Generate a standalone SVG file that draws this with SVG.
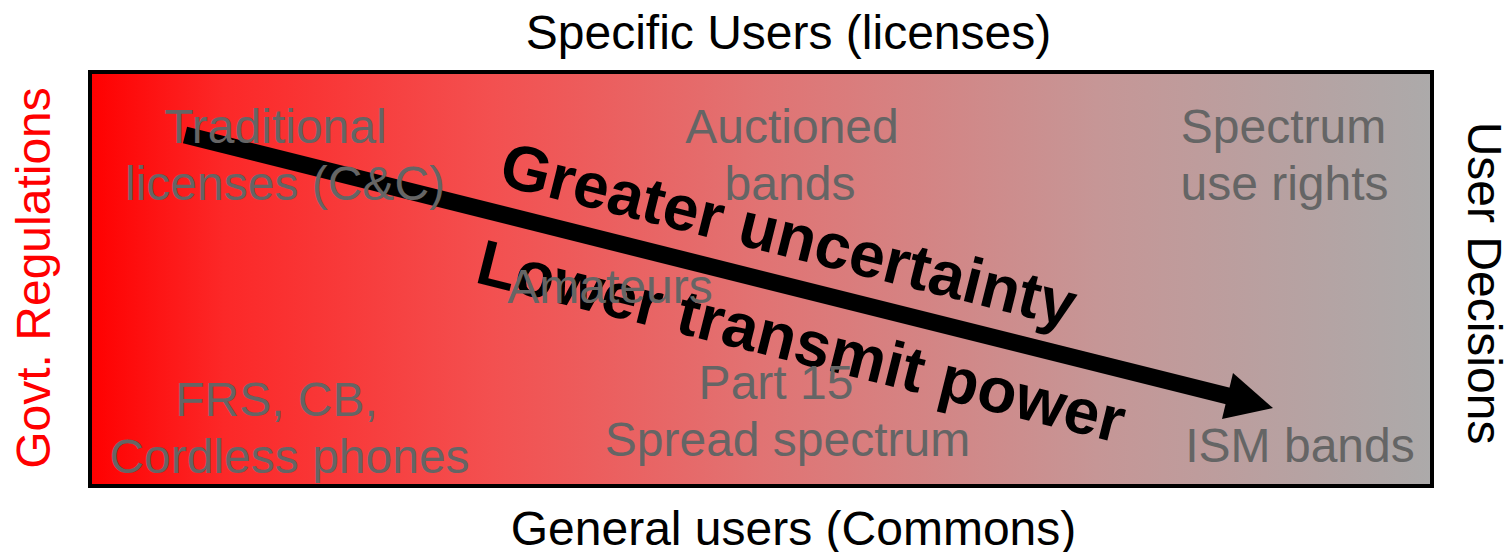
<svg xmlns="http://www.w3.org/2000/svg" width="1511" height="552" viewBox="0 0 1511 552">
  <defs>
    <linearGradient id="bg" x1="90" y1="0" x2="1432" y2="0" gradientUnits="userSpaceOnUse">
      <stop offset="0" stop-color="rgb(255,0,0)"/>
      <stop offset="0.1" stop-color="rgb(252,40,40)"/>
      <stop offset="0.3" stop-color="rgb(243,80,80)"/>
      <stop offset="0.5" stop-color="rgb(225,115,115)"/>
      <stop offset="0.75" stop-color="rgb(198,150,150)"/>
      <stop offset="1" stop-color="rgb(172,170,170)"/>
    </linearGradient>
    <style>
      text { font-family: "Liberation Sans", Arial, sans-serif; font-size: 48px; text-anchor: middle; }
      .cell { fill: #656565; }
      .axis { fill: #000000; }
      .bold { font-weight: bold; font-size: 64px; fill: #000000; }
    </style>
  </defs>
  <rect width="1511" height="552" fill="#ffffff"/>
  <g id="panel">
    <rect x="90" y="72" width="1342" height="414" fill="url(#bg)" stroke="#000000" stroke-width="4"/>
  </g>
  <g id="axis-top"><text class="axis" x="788.5" y="49">Specific Users (licenses)</text></g>
  <g id="axis-bottom"><text class="axis" x="793.5" y="545">General users (Commons)</text></g>
  <g id="axis-left"><text transform="translate(50,278) rotate(-90)" fill="#ff0000">Govt. Regulations</text></g>
  <g id="axis-right"><text class="axis" transform="translate(1468,283) rotate(90)">User Decisions</text></g>
  <g id="connectors">
    <line x1="185" y1="135" x2="1230" y2="396.6" stroke="#000000" stroke-width="17"/>
    <polygon points="1233,373 1273,408 1222,419" fill="#000000"/>
  </g>
  <g id="arrow-labels">
    <text class="bold" transform="translate(783.4,256.1) rotate(14.04)">Greater uncertainty</text>
    <text class="bold" transform="translate(796.1,362.6) rotate(14.04)">Lower transmit power</text>
  </g>
  <g id="traditional">
    <text class="cell" x="275.5" y="143">Traditional</text>
    <text class="cell" x="285" y="200">licenses (C&amp;C)</text>
  </g>
  <g id="auctioned">
    <text class="cell" x="792" y="143">Auctioned</text>
    <text class="cell" x="790" y="200">bands</text>
  </g>
  <g id="spectrum-rights">
    <text class="cell" x="1283.5" y="143">Spectrum</text>
    <text class="cell" x="1284.5" y="200">use rights</text>
  </g>
  <g id="amateurs"><text class="cell" x="610" y="303">Amateurs</text></g>
  <g id="part15">
    <text class="cell" x="776" y="399">Part 15</text>
    <text class="cell" x="787.5" y="456">Spread spectrum</text>
  </g>
  <g id="frs">
    <text class="cell" x="276.5" y="416">FRS, CB,</text>
    <text class="cell" x="289.5" y="473">Cordless phones</text>
  </g>
  <g id="ism"><text class="cell" x="1300" y="462">ISM bands</text></g>
</svg>
